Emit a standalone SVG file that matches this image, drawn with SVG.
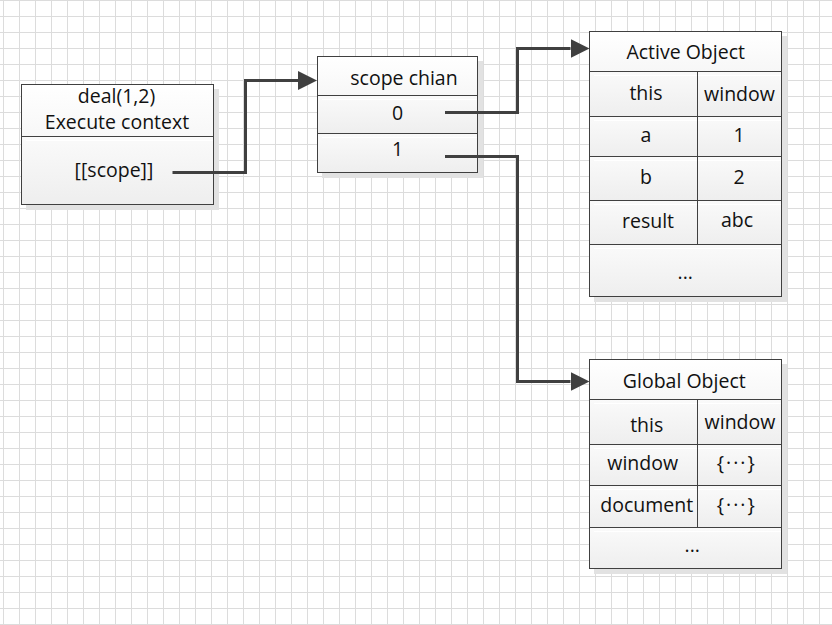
<svg xmlns="http://www.w3.org/2000/svg" width="832" height="625" viewBox="0 0 832 625">
<defs>
<pattern id="grid" width="16" height="16" patternUnits="userSpaceOnUse" x="3" y="0">
<path d="M0.5 0V16M0 0.5H16" fill="none" stroke="#dcdcdc" stroke-width="1"/>
</pattern>
<linearGradient id="cell" x1="0" y1="0" x2="0" y2="1">
<stop offset="0" stop-color="#fafafa"/>
<stop offset="1" stop-color="#eeeeee"/>
</linearGradient>
<linearGradient id="head" x1="0" y1="0" x2="0" y2="1">
<stop offset="0" stop-color="#ffffff"/>
<stop offset="1" stop-color="#f7f7f7"/>
</linearGradient>
<marker id="arrow" markerUnits="userSpaceOnUse" markerWidth="20" markerHeight="20" viewBox="0 0 20 20" refX="0" refY="10" orient="auto">
<path d="M0 0.5L19 10L0 19.5z" fill="#404040"/>
</marker>
</defs>
<style>
.box{stroke:#404040;stroke-width:1;}
.sh{fill:#e2e2e2;}
.div{stroke:#404040;stroke-width:1;fill:none;}
.gl{stroke:#ffffff;stroke-width:1;fill:none;opacity:0.9;}
.t{font-family:"Open Sans","Noto Sans","Liberation Sans",sans-serif;font-size:19.5px;fill:#111111;text-anchor:middle;}
.c{fill:none;stroke:#404040;stroke-width:3;marker-end:url(#arrow);}
</style>
<rect x="0" y="0" width="832" height="625" fill="#ffffff"/>
<rect x="0" y="0" width="832" height="625" fill="url(#grid)"/>

<g id="exec-context">
<rect class="sh" x="26" y="89" width="193" height="121"/>
<rect x="21.5" y="84.5" width="192" height="52" fill="url(#head)"/>
<rect x="21.5" y="136.5" width="192" height="68" fill="url(#cell)"/>
<line class="gl" x1="26" y1="140.5" x2="213" y2="140.5"/>
<rect class="box" x="21.5" y="84.5" width="192" height="120" fill="none"/>
<line class="div" x1="21.5" y1="136.5" x2="213.5" y2="136.5"/>
<text class="t" x="116.5" y="103">deal(1,2)</text>
<text class="t" x="117" y="129.3">Execute context</text>
<text class="t" x="114" y="177">[[scope]]</text>
</g>

<g id="scope-chain">
<rect class="sh" x="322" y="61" width="161" height="117"/>
<rect x="317.5" y="56.5" width="160" height="39" fill="url(#head)"/>
<rect x="317.5" y="95.5" width="160" height="38" fill="url(#cell)"/>
<rect x="317.5" y="133.5" width="160" height="39" fill="url(#cell)"/>
<line class="gl" x1="322" y1="99.5" x2="477" y2="99.5"/>
<line class="gl" x1="322" y1="137.5" x2="477" y2="137.5"/>
<rect class="box" x="317.5" y="56.5" width="160" height="116" fill="none"/>
<line class="div" x1="317.5" y1="95.5" x2="477.5" y2="95.5"/>
<line class="div" x1="317.5" y1="133.5" x2="477.5" y2="133.5"/>
<text class="t" x="404" y="85">scope chian</text>
<text class="t" x="397.5" y="120.3">0</text>
<text class="t" x="397.5" y="155.7">1</text>
</g>

<g id="active-object">
<rect class="sh" x="594" y="36" width="193" height="266"/>
<rect x="589.5" y="31.5" width="192" height="40" fill="url(#head)"/>
<rect x="589.5" y="71.5" width="192" height="45" fill="url(#cell)"/>
<rect x="589.5" y="116.5" width="192" height="40" fill="url(#cell)"/>
<rect x="589.5" y="156.5" width="192" height="44" fill="url(#cell)"/>
<rect x="589.5" y="200.5" width="192" height="44" fill="url(#cell)"/>
<rect x="589.5" y="244.5" width="192" height="52" fill="url(#cell)"/>
<line class="gl" x1="594" y1="75.5" x2="781" y2="75.5"/>
<line class="gl" x1="594" y1="120.5" x2="781" y2="120.5"/>
<line class="gl" x1="594" y1="160.5" x2="781" y2="160.5"/>
<line class="gl" x1="594" y1="204.5" x2="781" y2="204.5"/>
<line class="gl" x1="594" y1="248.5" x2="781" y2="248.5"/>
<rect class="box" x="589.5" y="31.5" width="192" height="265" fill="none"/>
<path class="div" d="M589.5 71.5H781.5M589.5 116.5H781.5M589.5 156.5H781.5M589.5 200.5H781.5M589.5 244.5H781.5M697.5 71.5V244.5"/>
<text class="t" x="685.7" y="59.3">Active Object</text>
<text class="t" x="646" y="100.3">this</text>
<text class="t" x="739.5" y="101.3">window</text>
<text class="t" x="646" y="142">a</text>
<text class="t" x="739" y="142">1</text>
<text class="t" x="646" y="184">b</text>
<text class="t" x="739" y="183.5">2</text>
<text class="t" x="648" y="227.7">result</text>
<text class="t" x="737" y="226.7">abc</text>
<text class="t" x="685.3" y="279">...</text>
</g>

<g id="global-object">
<rect class="sh" x="594" y="364" width="193" height="210"/>
<rect x="589.5" y="359.5" width="192" height="40" fill="url(#head)"/>
<rect x="589.5" y="399.5" width="192" height="45" fill="url(#cell)"/>
<rect x="589.5" y="444.5" width="192" height="41" fill="url(#cell)"/>
<rect x="589.5" y="485.5" width="192" height="42" fill="url(#cell)"/>
<rect x="589.5" y="527.5" width="192" height="41" fill="url(#cell)"/>
<line class="gl" x1="594" y1="403.5" x2="781" y2="403.5"/>
<line class="gl" x1="594" y1="448.5" x2="781" y2="448.5"/>
<line class="gl" x1="594" y1="489.5" x2="781" y2="489.5"/>
<line class="gl" x1="594" y1="531.5" x2="781" y2="531.5"/>
<rect class="box" x="589.5" y="359.5" width="192" height="209" fill="none"/>
<path class="div" d="M589.5 399.5H781.5M589.5 444.5H781.5M589.5 485.5H781.5M589.5 527.5H781.5M697.5 399.5V527.5"/>
<text class="t" x="684.3" y="388.3">Global Object</text>
<text class="t" x="646.7" y="431.7">this</text>
<text class="t" x="740" y="429.3">window</text>
<text class="t" x="642.7" y="470">window</text>
<text class="t" x="736.8" y="470" letter-spacing="2">{···}</text>
<text class="t" x="646.7" y="512.3">document</text>
<text class="t" x="736.8" y="512" letter-spacing="2">{···}</text>
<text class="t" x="692.3" y="552.3">...</text>
</g>

<g id="connectors">
<path class="c" d="M172.5 172.5H245.5V80.5H298"/>
<path class="c" d="M445 112.5H517.5V48.5H570.5"/>
<path class="c" d="M445 156.5H517.5V381.5H570.5"/>
</g>
</svg>
